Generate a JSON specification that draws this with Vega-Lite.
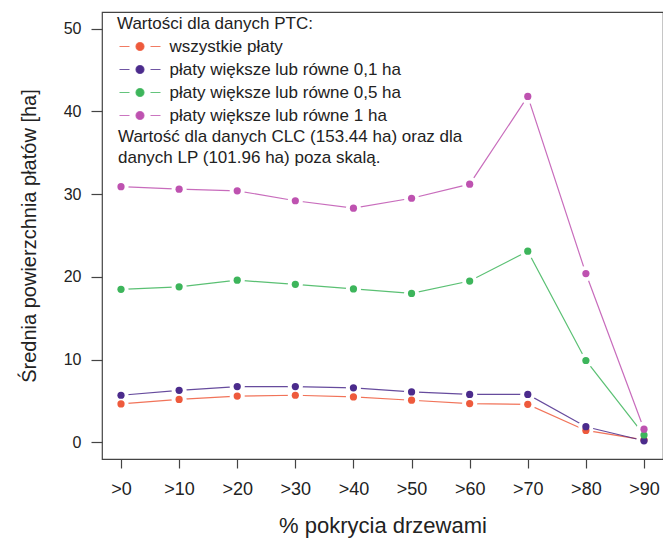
{
  "$schema": "https://vega.github.io/schema/vega-lite/v6.json",
  "autosize": {"type": "none"},
  "padding": {"left": 102, "top": 12, "right": 0, "bottom": 81},
  "width": 561,
  "height": 447,
  "background": "white",
  "config": {
    "font": "Liberation Sans",
    "view": {"stroke": "#444", "strokeWidth": 1.2},
    "axis": {"grid": false, "domain": false, "tickColor": "#444", "tickWidth": 1.2, "labelColor": "#222", "titleColor": "#222", "labelFont": "Liberation Sans", "titleFont": "Liberation Sans", "titleFontWeight": "normal"}
  },
  "datasets": {
    "main": [
      {"c": ">0", "s": "wszystkie płaty", "v": 4.65},
      {"c": ">10", "s": "wszystkie płaty", "v": 5.2},
      {"c": ">20", "s": "wszystkie płaty", "v": 5.6},
      {"c": ">30", "s": "wszystkie płaty", "v": 5.7},
      {"c": ">40", "s": "wszystkie płaty", "v": 5.5},
      {"c": ">50", "s": "wszystkie płaty", "v": 5.1},
      {"c": ">60", "s": "wszystkie płaty", "v": 4.7},
      {"c": ">70", "s": "wszystkie płaty", "v": 4.6},
      {"c": ">80", "s": "wszystkie płaty", "v": 1.45},
      {"c": ">90", "s": "wszystkie płaty", "v": 0.3},
      {"c": ">0", "s": "płaty większe lub równe 0,1 ha", "v": 5.7},
      {"c": ">10", "s": "płaty większe lub równe 0,1 ha", "v": 6.3},
      {"c": ">20", "s": "płaty większe lub równe 0,1 ha", "v": 6.75},
      {"c": ">30", "s": "płaty większe lub równe 0,1 ha", "v": 6.75},
      {"c": ">40", "s": "płaty większe lub równe 0,1 ha", "v": 6.6},
      {"c": ">50", "s": "płaty większe lub równe 0,1 ha", "v": 6.1},
      {"c": ">60", "s": "płaty większe lub równe 0,1 ha", "v": 5.8},
      {"c": ">70", "s": "płaty większe lub równe 0,1 ha", "v": 5.8},
      {"c": ">80", "s": "płaty większe lub równe 0,1 ha", "v": 1.9},
      {"c": ">90", "s": "płaty większe lub równe 0,1 ha", "v": 0.2},
      {"c": ">0", "s": "płaty większe lub równe 0,5 ha", "v": 18.5},
      {"c": ">10", "s": "płaty większe lub równe 0,5 ha", "v": 18.8},
      {"c": ">20", "s": "płaty większe lub równe 0,5 ha", "v": 19.6},
      {"c": ">30", "s": "płaty większe lub równe 0,5 ha", "v": 19.1},
      {"c": ">40", "s": "płaty większe lub równe 0,5 ha", "v": 18.55},
      {"c": ">50", "s": "płaty większe lub równe 0,5 ha", "v": 18.0},
      {"c": ">60", "s": "płaty większe lub równe 0,5 ha", "v": 19.5},
      {"c": ">70", "s": "płaty większe lub równe 0,5 ha", "v": 23.1},
      {"c": ">80", "s": "płaty większe lub równe 0,5 ha", "v": 9.9},
      {"c": ">90", "s": "płaty większe lub równe 0,5 ha", "v": 0.9},
      {"c": ">0", "s": "płaty większe lub równe 1 ha", "v": 30.9},
      {"c": ">10", "s": "płaty większe lub równe 1 ha", "v": 30.6},
      {"c": ">20", "s": "płaty większe lub równe 1 ha", "v": 30.4},
      {"c": ">30", "s": "płaty większe lub równe 1 ha", "v": 29.2},
      {"c": ">40", "s": "płaty większe lub równe 1 ha", "v": 28.3},
      {"c": ">50", "s": "płaty większe lub równe 1 ha", "v": 29.5},
      {"c": ">60", "s": "płaty większe lub równe 1 ha", "v": 31.2},
      {"c": ">70", "s": "płaty większe lub równe 1 ha", "v": 41.8},
      {"c": ">80", "s": "płaty większe lub równe 1 ha", "v": 20.4},
      {"c": ">90", "s": "płaty większe lub równe 1 ha", "v": 1.6}
    ],
    "note": [
      {"id": 1}
    ]
  },
  "layer": [
    {
      "data": {"name": "main"},
      "encoding": {
        "x": {"field": "c", "type": "ordinal", "scale": {"type": "point", "domain": [">0", ">10", ">20", ">30", ">40", ">50", ">60", ">70", ">80", ">90"], "padding": 0.327},
          "axis": {"title": "% pokrycia drzewami", "labelAngle": 0, "labelFontSize": 18, "tickSize": 9, "labelPadding": 12, "titleFontSize": 22, "titlePadding": 17}},
        "y": {"field": "v", "type": "quantitative", "scale": {"domain": [-2, 52], "nice": false, "zero": false},
          "axis": {"values": [0, 10, 20, 30, 40, 50], "title": "Średnia powierzchnia płatów [ha]", "labelFontSize": 16, "tickSize": 11, "labelPadding": 10, "titleFontSize": 20, "titlePadding": 24}},
        "color": {"field": "s", "type": "nominal",
          "scale": {"domain": ["wszystkie płaty", "płaty większe lub równe 0,1 ha", "płaty większe lub równe 0,5 ha", "płaty większe lub równe 1 ha"], "range": ["#EE5A3C", "#4B2B8C", "#3DB55B", "#BE52B0"]},
          "legend": {"orient": "none", "legendX": 15, "legendY": 4, "title": "Wartości dla danych PTC:", "titleFontSize": 17, "titleFontWeight": "normal", "titleColor": "#222", "titlePadding": 5, "titleLimit": 500,
            "labelFontSize": 17, "labelColor": "#222", "labelOffset": 21, "labelLimit": 500, "rowPadding": 5,
            "symbolType": "M-4.1,0L-2.1,0M2.1,0L4.1,0M-0.8,0A0.8,0.8,0,1,0,0.8,0A0.8,0.8,0,1,0,-0.8,0Z",
            "symbolSize": 100, "symbolOffset": 14.5, "symbolStrokeWidth": 1.2, "symbolOpacity": 1,
            "encode": {"symbols": {"update": {"fill": {"scale": "color", "field": "value"}, "stroke": {"scale": "color", "field": "value"}, "opacity": {"value": 1}, "strokeOpacity": {"value": 0.8}}}}}}
      },
      "layer": [
        {"mark": {"type": "line", "strokeWidth": 1.2, "opacity": 0.85}},
        {"mark": {"type": "circle", "size": 230, "opacity": 1}, "encoding": {"color": {"value": "white"}}},
        {"mark": {"type": "circle", "size": 52, "opacity": 1}}
      ]
    },
    {
      "data": {"name": "note"},
      "mark": {"type": "text", "align": "left", "baseline": "top", "fontSize": 17, "lineHeight": 21, "dx": -3, "color": "#222"},
      "encoding": {
        "x": {"datum": ">0", "type": "ordinal"},
        "y": {"datum": 37.9, "type": "quantitative"},
        "text": {"value": ["Wartość dla danych CLC (153.44 ha) oraz dla", "danych LP (101.96 ha) poza skalą."]}
      }
    }
  ]
}
